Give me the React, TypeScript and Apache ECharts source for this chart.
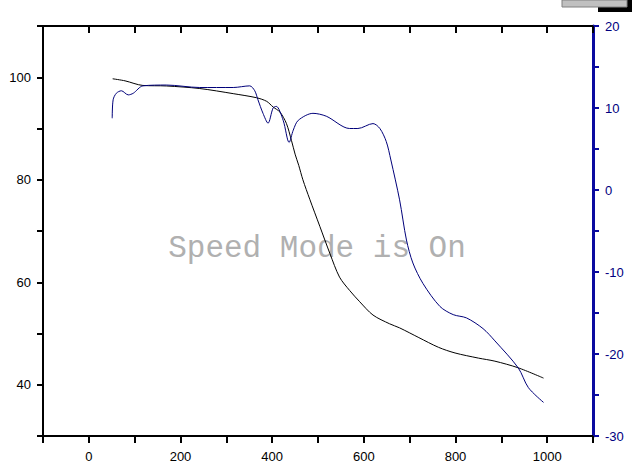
import React, { useEffect, useRef } from "react";
import * as echarts from "echarts";

const blackX = [52, 79, 118, 169, 242, 315, 366, 388, 402, 417, 431, 442, 450, 458, 467, 482, 504, 526, 547, 569, 591, 620, 656, 678, 720, 763, 799, 850, 886, 937, 992];
const blackY = [99.7, 99.3, 98.4, 98.3, 97.8, 96.8, 96.0, 95.3, 94.2, 93.2, 91.0, 87.7, 85.0, 82.8, 80.0, 76.2, 70.9, 65.6, 61.0, 58.4, 56.2, 53.6, 51.9, 51.1, 49.2, 47.3, 46.2, 45.2, 44.6, 43.3, 41.3];

const blueX = [51, 53, 60, 71, 86, 97, 118, 169, 242, 315, 351, 362, 369, 380, 391, 402, 409, 424, 437, 446, 457, 489, 518, 569, 587, 620, 635, 649, 659, 678, 693, 707, 729, 766, 795, 824, 860, 886, 937, 959, 992];
const blueY = [8.75, 11.0, 11.8, 12.1, 11.6, 11.8, 12.7, 12.8, 12.5, 12.5, 12.7, 12.1, 11.0, 9.35, 8.15, 10.0, 10.2, 8.5, 5.8, 7.3, 8.5, 9.35, 9.0, 7.5, 7.5, 8.1, 7.5, 5.9, 3.66, -1.2, -6.1, -8.9, -11.4, -14.2, -15.2, -15.6, -16.9, -18.4, -21.7, -24.1, -25.9];

const xMin = -100, xMax = 1100, xInterval = 100;
const xLabels = [0, 200, 400, 600, 800, 1000];
const leftMin = 30, leftMax = 110, leftInterval = 10;
const leftLabels = [40, 60, 80, 100];
const rightMin = -30, rightMax = 20, rightInterval = 5;
const rightLabels = [-30, -20, -10, 0, 10, 20];
const watermark = "Speed Mode is On";

const BLUE_AXIS = "#0a0aa0";
const BLUE_LINE = "#00007a";
const FONT = "'Liberation Sans Narrow', 'Liberation Sans', Arial, sans-serif";

export default function App() {
  const ref = useRef<HTMLDivElement>(null);
  useEffect(() => {
    if (!ref.current) return;
    const chart = echarts.init(ref.current, null, { renderer: "svg" });
    const blackData = blackX.map((x, i) => [x, blackY[i]]);
    const blueData = blueX.map((x, i) => [x, blueY[i]]);
    chart.setOption({
      animation: false,
      backgroundColor: "#ffffff",
      grid: { left: 43, right: 39, top: 26, bottom: 35, containLabel: false },
      xAxis: [
        {
          type: "value",
          position: "bottom",
          min: xMin,
          max: xMax,
          interval: xInterval,
          splitLine: { show: false },
          axisLine: { show: true, onZero: false, lineStyle: { color: "#000", width: 2 } },
          axisTick: { show: true, inside: false, length: 7, lineStyle: { color: "#000", width: 2 } },
          axisLabel: {
            show: true,
            margin: 14,
            color: "#000",
            fontFamily: FONT,
            fontSize: 13,
            showMinLabel: true,
            showMaxLabel: true,
            formatter: (v: number) => (xLabels.includes(v) ? String(v) : ""),
          },
        },
        {
          type: "value",
          position: "top",
          min: xMin,
          max: xMax,
          interval: xInterval,
          splitLine: { show: false },
          axisLine: { show: true, onZero: false, lineStyle: { color: "#000", width: 2 } },
          axisTick: { show: true, inside: true, length: 7, lineStyle: { color: "#000", width: 2 } },
          axisLabel: { show: false },
        },
      ],
      yAxis: [
        {
          type: "value",
          position: "left",
          min: leftMin,
          max: leftMax,
          interval: leftInterval,
          splitLine: { show: false },
          axisLine: { show: true, onZero: false, lineStyle: { color: "#000", width: 2 } },
          axisTick: { show: true, inside: false, length: 6, lineStyle: { color: "#000", width: 2 } },
          axisLabel: {
            show: true,
            margin: 12,
            color: "#000",
            fontFamily: FONT,
            fontSize: 13,
            formatter: (v: number) => (leftLabels.includes(v) ? String(v) : ""),
          },
        },
        {
          type: "value",
          position: "right",
          min: rightMin,
          max: rightMax,
          interval: rightInterval,
          splitLine: { show: false },
          axisLine: { show: true, onZero: false, lineStyle: { color: BLUE_AXIS, width: 3 } },
          axisTick: { show: true, inside: false, length: 6, lineStyle: { color: BLUE_AXIS, width: 2 } },
          axisLabel: {
            show: true,
            margin: 12,
            color: "#000080",
            fontFamily: FONT,
            fontSize: 13,
            showMinLabel: true,
            showMaxLabel: true,
            formatter: (v: number) => (rightLabels.includes(v) ? String(v) : ""),
          },
        },
      ],
      graphic: [
        {
          type: "text",
          x: 317,
          y: 248,
          z: 1,
          silent: true,
          style: {
            text: watermark,
            fill: "#b0b0b0",
            font: "31px 'Liberation Mono', 'DejaVu Sans Mono', monospace",
            textAlign: "center",
            textVerticalAlign: "middle",
          },
        },
        {
          type: "rect",
          shape: { x: 598, y: 0, width: 34, height: 12 },
          style: { fill: "#000" },
        },
        {
          type: "rect",
          shape: { x: 562, y: 0, width: 65, height: 7 },
          style: { fill: "#c0c0c0", stroke: "#808080", lineWidth: 1 },
        },
      ],
      series: [
        {
          type: "line",
          name: "black",
          xAxisIndex: 0,
          yAxisIndex: 0,
          data: blackData,
          smooth: 0.3,
          showSymbol: false,
          lineStyle: { color: "#000", width: 1 },
          z: 3,
        },
        {
          type: "line",
          name: "blue",
          xAxisIndex: 0,
          yAxisIndex: 1,
          data: blueData,
          smooth: 0.3,
          showSymbol: false,
          lineStyle: { color: BLUE_LINE, width: 1 },
          z: 3,
        },
      ],
    });
    return () => chart.dispose();
  }, []);
  return (
    <div
      ref={ref}
      style={{ position: "fixed", left: 0, top: 0, width: 632, height: 471, background: "#fff" }}
    />
  );
}
